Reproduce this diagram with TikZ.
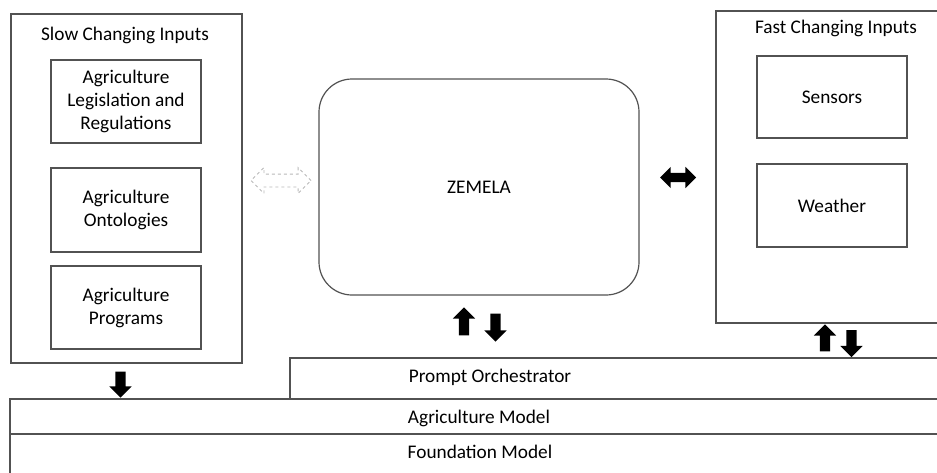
\documentclass[tikz,border=0pt]{standalone}
\usepackage{fontspec}
\setmainfont{Carlito}
\usetikzlibrary{
    positioning,
    shapes.arrows
}
\tikzset{
    % Colors
    frame color/.style={draw=black!68},
    faint color/.style={draw=black!28},
    %
    % Boxes
    box/.style={frame color,line width=1.2pt,inner sep=0pt,align=center},
    group box/.style={box,line width=1.3pt},
    layer/.style={frame color,line width=1.3pt,inner sep=0pt},
    %
    % Block arrows
    block arrow/.style={single arrow,fill=black,inner xsep=0pt,inner ysep=5pt,
        single arrow head extend=6pt,minimum height=#1},
    block arrow/.default=28pt,
    both arrow/.style={double arrow,inner xsep=0pt,double arrow head extend=6pt,minimum height=#1}
}
\tikzstyle{every node}=[font=\fontsize{19.3}{23}\selectfont]

\begin{document}
\begin{tikzpicture}[x=1pt,y=-1pt]
    \useasboundingbox (0,0) rectangle (937,472);
    \clip (0,0) rectangle (937,472);

    % layers at the bottom
    \node[layer,minimum width=950,minimum height=60] (found) at (485,464) {};
    \node[layer,minimum width=950,minimum height=35] (agri) at (485,416.5) {};
    \node[layer,minimum width=670,minimum height=41] (orch) at (625,378.5) {};
    \node (orchtext) at (490,377) {Prompt Orchestrator};
    \node (agritext) at (479,418) {Agriculture Model};
    \node (foundtext) at (480,452) {Foundation Model};

    % slow inputs
    \node[group box,minimum width=231,minimum height=349] (slow) at (126.5,188.5) {};
    \node (slowtitle) at (125,35) {Slow Changing Inputs};
    \node[box,minimum width=150,minimum height=83] (legis) at (126,101.5) {Agriculture\\Legislation and\\Regulations};
    \node[box,minimum width=150,minimum height=84] (onto) at (126,210) {Agriculture\\Ontologies};
    \node[box,minimum width=150,minimum height=83] (progs) at (126,307.5) {Agriculture\\Programs};

    % core
    \node[box,rounded corners=33pt,minimum width=320,minimum height=216] (zemela) at (479,187) {ZEMELA};

    % fast inputs
    \node[group box,minimum width=244,minimum height=312] (fast) at (838,167) {};
    \node (fasttitle) at (836,28) {Fast Changing Inputs};
    \node[box,minimum width=150,minimum height=82] (sensors) at (832,97) {Sensors};
    \node[box,minimum width=150,minimum height=83] (weather) at (832,205.5) {Weather};

    % arrows between the blocks
    \node[both arrow=60pt,faint color,dashed,line width=0.8pt,inner ysep=6pt,double arrow head extend=6.5pt] (slowlink) at (281,180.5) {};
    \node[both arrow=36pt,fill=black,inner ysep=4.5pt] (fastlink) at (678,177.5) {};
    \node[block arrow,rotate=90] (zup) at (464,324) {};
    \node[block arrow,rotate=-90] (zdown) at (495.5,325) {};
    \node[block arrow=27pt,rotate=90] (fup) at (825,340.5) {};
    \node[block arrow=27pt,rotate=-90] (fdown) at (851.5,341) {};
    \node[block arrow=26pt,rotate=-90] (sdown) at (120.5,382) {};
\end{tikzpicture}
\end{document}
